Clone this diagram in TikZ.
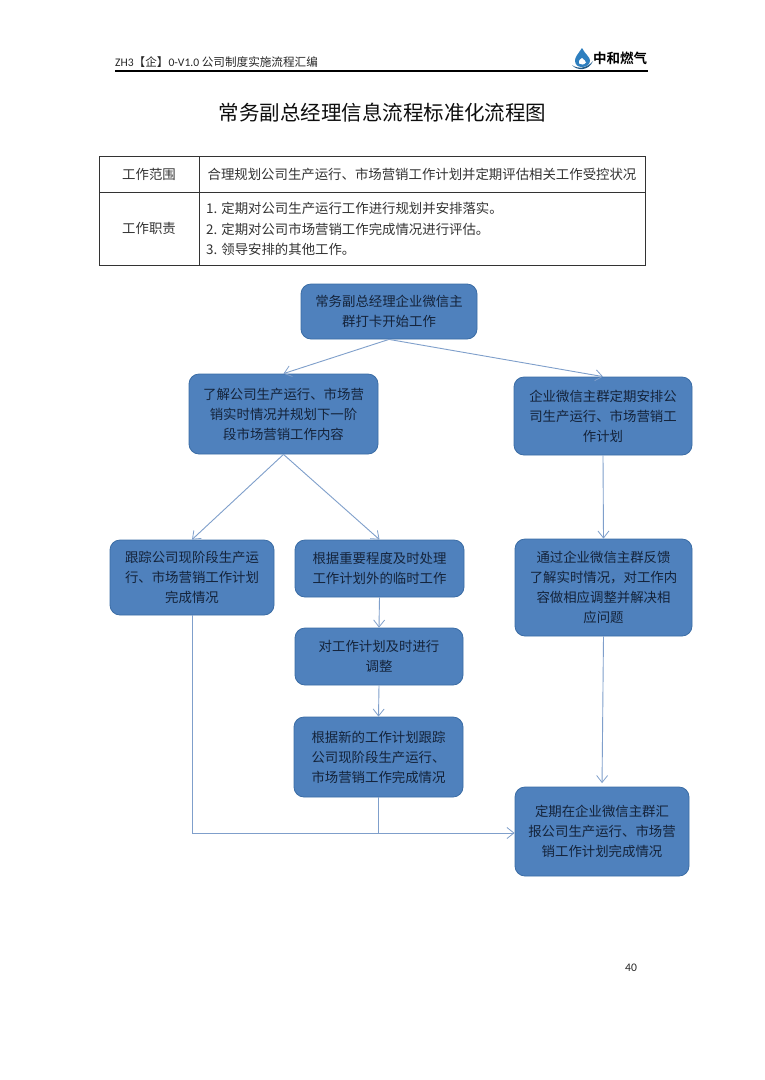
\documentclass[tikz,border=0pt]{standalone}
\usepackage{fontspec}
\setmainfont{Carlito}
\newfontfamily\cjk{Noto Sans CJK SC}
\newfontfamily\cjkb{Noto Sans CJK SC}[BoldFont={Noto Sans CJK SC Bold}]
\usetikzlibrary{arrows.meta}
\definecolor{boxfill}{HTML}{4F81BD}
\definecolor{boxline}{HTML}{3A6CA5}
\definecolor{arrowc}{HTML}{7F9FCB}
\definecolor{txt}{HTML}{14233A}
\definecolor{logoblue}{HTML}{2E7FBF}
\tikzset{
  flow/.style={draw=boxline,line width=0.8pt,fill=boxfill,rounded corners=10pt,align=center,
    text=txt,font=\fontsize{13.4}{20}\cjk,inner sep=0pt},
  link/.style={draw=arrowc,line width=0.9pt,-{Straight Barb[length=7pt,width=11pt,line width=0.8pt]}},
  plain/.style={draw=arrowc,line width=0.9pt},
  cell/.style={draw=black!80,line width=0.7pt,inner sep=0pt,text=black!80,font=\fontsize{13.4}{20.5}\cjk},
}
\begin{document}
\begin{tikzpicture}[x=1pt,y=-1pt]
\useasboundingbox[fill=white] (0,0) rectangle (764,1080);
% header
\node[anchor=base west,inner sep=0pt,font=\fontsize{11.6}{14}\selectfont,text=black!85] (hdr) at (115,66)
  {ZH3{\cjk【企】}0-V1.0 {\cjk 公司制度实施流程汇编}};
\draw[line width=1.1pt,black] (115,71) -- (648,71);
% logo
\fill[logoblue] (582,48) .. controls (578,54) and (575,57) .. (575,60.5) .. controls (575,65) and (578,67) .. (582,67)
  .. controls (587,67) and (590,64) .. (590,60.5) .. controls (590,57) and (585,54) .. (582,48) -- cycle;
\fill[white] (582,58) .. controls (579,60) and (578,62) .. (579,63.5) .. controls (581,65) and (584,65) .. (586,62.5)
  .. controls (586,61) and (584,60) .. (582,58) -- cycle;
\fill[logoblue!70!black] (572,65) .. controls (577,69) and (587,69) .. (593,61) .. controls (589,71) and (577,71) .. (572,65) -- cycle;
\node[anchor=west,inner sep=0pt,font=\fontsize{13.5}{14}\cjkb\bfseries,text=black] (logotext) at (593,58) {中和燃气};
% title
\node[inner sep=0pt,font=\fontsize{20.5}{24}\cjk,text=black!95] (title) at (382.5,113) {常务副总经理信息流程标准化流程图};
% table
\node[cell,minimum width=100pt,minimum height=36pt] (c11) at (149,174) {工作范围};
\node[cell,minimum width=446pt,minimum height=36pt] (c12) at (422,174) {合理规划公司生产运行、市场营销工作计划并定期评估相关工作受控状况};
\node[cell,minimum width=100pt,minimum height=73pt] (c21) at (149,228.5) {工作职责};
\node[cell,minimum width=446pt,minimum height=73pt] (c22) at (422,228.5) {};
\node[anchor=west,inner sep=0pt,align=left,font=\fontsize{13.4}{20.5}\cjk,text=black!80] (duties) at (206,229)
  {1. 定期对公司生产运行工作进行规划并安排落实。\\2. 定期对公司市场营销工作完成情况进行评估。\\3. 领导安排的其他工作。};
% flow boxes
\node[flow,minimum width=176pt,minimum height=55pt] (b1) at (389,311.5) {常务副总经理企业微信主\\群打卡开始工作};
\node[flow,minimum width=189pt,minimum height=80pt] (b2) at (283.5,414) {了解公司生产运行、市场营\\销实时情况并规划下一阶\\段市场营销工作内容};
\node[flow,minimum width=178pt,minimum height=78pt] (b3) at (603,416) {企业微信主群定期安排公\\司生产运行、市场营销工\\作计划};
\node[flow,minimum width=164pt,minimum height=75pt] (b4) at (192,577.5) {跟踪公司现阶段生产运\\行、市场营销工作计划\\完成情况};
\node[flow,minimum width=169pt,minimum height=57pt] (b5) at (379.5,568.5) {根据重要程度及时处理\\工作计划外的临时工作};
\node[flow,minimum width=177pt,minimum height=97pt] (b6) at (603.5,587.5) {通过企业微信主群反馈\\了解实时情况，对工作内\\容做相应调整并解决相\\应问题};
\node[flow,minimum width=168pt,minimum height=57pt] (b7) at (379,656.5) {对工作计划及时进行\\调整};
\node[flow,minimum width=169pt,minimum height=80pt] (b8) at (378.5,757) {根据新的工作计划跟踪\\公司现阶段生产运行、\\市场营销工作完成情况};
\node[flow,minimum width=174pt,minimum height=89pt] (b9) at (602,831.5) {定期在企业微信主群汇\\报公司生产运行、市场营\\销工作计划完成情况};
% connectors
\draw[link] (b1.south) -- (b2.north);
\draw[link] (b1.south) -- (b3.north);
\draw[link] (b2.south) -- (b4.north);
\draw[link] (b2.south) -- (b5.north);
\draw[link] (b3.south) -- (b6.north);
\draw[link] (b5.south) -- (b7.north);
\draw[link] (b7.south) -- (b8.north);
\draw[link,shorten >=3.5pt] (b6.south) -- (b9.north);
\coordinate (entry) at ([yshift=-1.5pt]b9.west);
\coordinate (join) at (b8.south |- entry);
\draw[plain] (b8.south) -- (join);
\draw[link] (b4.south) |- (entry);
% page number
\node[inner sep=0pt,font=\fontsize{11.6}{14}\selectfont,text=black!85] (page) at (631,968) {40};
\end{tikzpicture}
\end{document}
